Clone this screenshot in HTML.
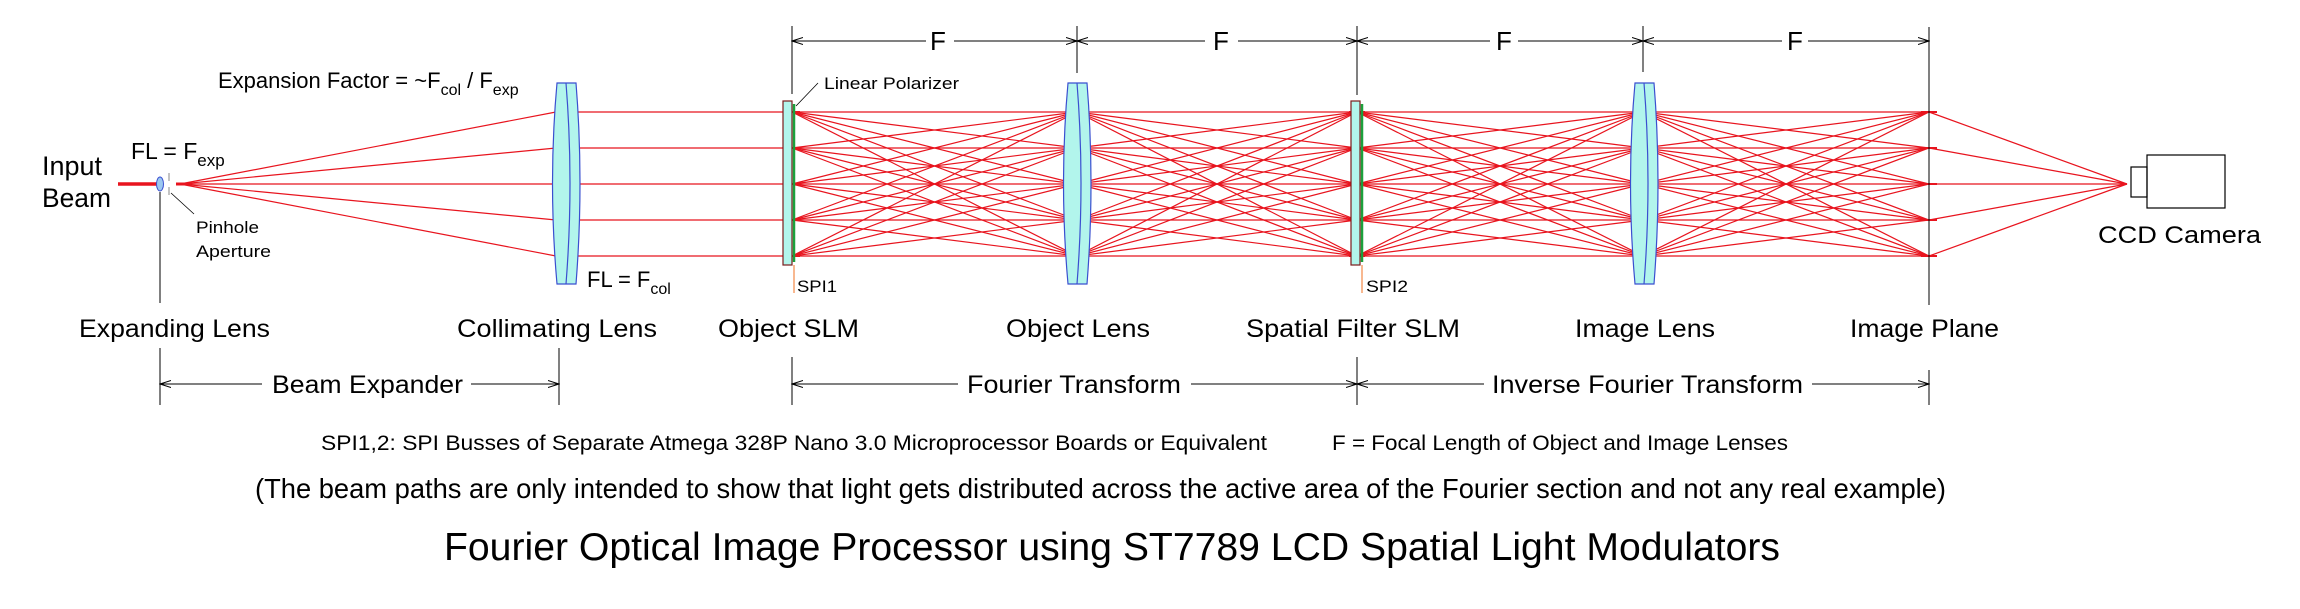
<!DOCTYPE html>
<html><head><meta charset="utf-8"><style>
html,body{margin:0;padding:0;background:#fff;}
svg{display:block;}
text{font-family:"Liberation Sans",Arial,sans-serif;fill:#000;}
</style></head><body>
<svg id="s" width="2300" height="609" viewBox="0 0 2300 609" xmlns="http://www.w3.org/2000/svg">
<defs>
<marker id="ar" markerWidth="12" markerHeight="8" refX="11" refY="4" orient="auto" markerUnits="userSpaceOnUse">
<path d="M0,0.5 L11,4 L0,7.5" fill="none" stroke="#000" stroke-width="1"/></marker>
<marker id="al" markerWidth="12" markerHeight="8" refX="1" refY="4" orient="auto" markerUnits="userSpaceOnUse">
<path d="M12,0.5 L1,4 L12,7.5" fill="none" stroke="#000" stroke-width="1"/></marker>
</defs>
<g id="rays" stroke="#e8141e" stroke-width="1.2" fill="none"></g>

<line x1="118" y1="184" x2="157" y2="184" stroke="#e8141e" stroke-width="3.5"/>
<ellipse cx="160" cy="184" rx="3.5" ry="7" fill="#9cc8f0" stroke="#3a4fd0" stroke-width="1"/>
<line x1="169" y1="173" x2="169" y2="181" stroke="#888" stroke-width="1"/>
<line x1="169" y1="187" x2="169" y2="195" stroke="#888" stroke-width="1"/>
<line x1="171" y1="193" x2="194" y2="214" stroke="#000" stroke-width="0.8"/>
<line x1="160" y1="192" x2="160" y2="303" stroke="#000" stroke-width="1"/>

<g fill="#b2f5ec" stroke="#3a4fd0" stroke-width="1.2">
<path d="M557,83 L576,83 Q584,183 576,284 L557,284 Q548,183 557,83 Z"/>
<path d="M566,83 Q574,183 566,284" fill="none"/>
<path d="M1068,83 L1087,83 Q1095,183 1087,284 L1068,284 Q1059,183 1068,83 Z"/>
<path d="M1077,83 Q1085,183 1077,284" fill="none"/>
<path d="M1635,83 L1654,83 Q1662,183 1654,284 L1635,284 Q1626,183 1635,83 Z"/>
<path d="M1644,83 Q1652,183 1644,284" fill="none"/>
</g>

<rect x="783" y="101" width="9" height="164" fill="#b2f5ec" stroke="#7b1c1c" stroke-width="1.2"/>
<line x1="794" y1="104" x2="794" y2="262" stroke="#1ca03c" stroke-width="2.5"/>
<line x1="794" y1="265" x2="794" y2="293" stroke="#f07020" stroke-width="1"/>
<rect x="1351" y="101" width="9" height="164" fill="#b2f5ec" stroke="#7b1c1c" stroke-width="1.2"/>
<line x1="1362" y1="104" x2="1362" y2="262" stroke="#1ca03c" stroke-width="2.5"/>
<line x1="1362" y1="265" x2="1362" y2="293" stroke="#f07020" stroke-width="1"/>
<line x1="796" y1="106" x2="818" y2="83" stroke="#000" stroke-width="0.8"/>

<rect x="2131" y="167" width="16" height="30" fill="none" stroke="#000" stroke-width="1.2"/>
<rect x="2147" y="155" width="78" height="53" fill="none" stroke="#000" stroke-width="1.2"/>

<g stroke="#000" stroke-width="1">
<line x1="792" y1="26" x2="792" y2="94"/>
<line x1="1077" y1="26" x2="1077" y2="73"/>
<line x1="1357" y1="26" x2="1357" y2="95"/>
<line x1="1643" y1="26" x2="1643" y2="72"/>
<line x1="1929" y1="27" x2="1929" y2="305"/>
<line x1="792" y1="41" x2="926" y2="41" marker-start="url(#al)"/>
<line x1="954" y1="41" x2="1077" y2="41" marker-end="url(#ar)"/>
<line x1="1077" y1="41" x2="1205" y2="41" marker-start="url(#al)"/>
<line x1="1238" y1="41" x2="1357" y2="41" marker-end="url(#ar)"/>
<line x1="1357" y1="41" x2="1490" y2="41" marker-start="url(#al)"/>
<line x1="1518" y1="41" x2="1643" y2="41" marker-end="url(#ar)"/>
<line x1="1643" y1="41" x2="1782" y2="41" marker-start="url(#al)"/>
<line x1="1808" y1="41" x2="1929" y2="41" marker-end="url(#ar)"/>
<line x1="160" y1="348" x2="160" y2="405"/>
<line x1="559" y1="348" x2="559" y2="405"/>
<line x1="792" y1="357" x2="792" y2="405"/>
<line x1="1357" y1="357" x2="1357" y2="405"/>
<line x1="1929" y1="370" x2="1929" y2="405"/>
<line x1="160" y1="384" x2="262" y2="384" marker-start="url(#al)"/>
<line x1="471" y1="384" x2="559" y2="384" marker-end="url(#ar)"/>
<line x1="792" y1="384" x2="958" y2="384" marker-start="url(#al)"/>
<line x1="1191" y1="384" x2="1357" y2="384" marker-end="url(#ar)"/>
<line x1="1357" y1="384" x2="1484" y2="384" marker-start="url(#al)"/>
<line x1="1812" y1="384" x2="1929" y2="384" marker-end="url(#ar)"/>
</g>

<g font-size="26">
<text x="930" y="50">F</text>
<text x="1213" y="50">F</text>
<text x="1496" y="50">F</text>
<text x="1787" y="50">F</text>
</g>
<text x="42" y="175" font-size="27" textLength="60" lengthAdjust="spacingAndGlyphs">Input</text>
<text x="42" y="207" font-size="27" textLength="69" lengthAdjust="spacingAndGlyphs">Beam</text>
<text x="131" y="159" font-size="23">FL = F<tspan font-size="17" dy="7">exp</tspan></text>
<text x="218" y="88" font-size="22">Expansion Factor = ~F<tspan font-size="16" dy="7">col</tspan><tspan dy="-7"> / F</tspan><tspan font-size="16" dy="7">exp</tspan></text>
<text x="196" y="233" font-size="17" textLength="63" lengthAdjust="spacingAndGlyphs">Pinhole</text>
<text x="196" y="257" font-size="17" textLength="75" lengthAdjust="spacingAndGlyphs">Aperture</text>
<text x="587" y="287" font-size="22">FL = F<tspan font-size="16" dy="7">col</tspan></text>
<text x="824" y="89" font-size="17" textLength="135" lengthAdjust="spacingAndGlyphs">Linear Polarizer</text>
<text x="797" y="292" font-size="17" textLength="40" lengthAdjust="spacingAndGlyphs">SPI1</text>
<text x="1366" y="292" font-size="17" textLength="42" lengthAdjust="spacingAndGlyphs">SPI2</text>
<text x="2098" y="243" font-size="24" textLength="163" lengthAdjust="spacingAndGlyphs">CCD Camera</text>

<g font-size="25">
<text x="79" y="337" textLength="191" lengthAdjust="spacingAndGlyphs">Expanding Lens</text>
<text x="457" y="337" textLength="200" lengthAdjust="spacingAndGlyphs">Collimating Lens</text>
<text x="718" y="337" textLength="141" lengthAdjust="spacingAndGlyphs">Object SLM</text>
<text x="1006" y="337" textLength="144" lengthAdjust="spacingAndGlyphs">Object Lens</text>
<text x="1246" y="337" textLength="214" lengthAdjust="spacingAndGlyphs">Spatial Filter SLM</text>
<text x="1575" y="337" textLength="140" lengthAdjust="spacingAndGlyphs">Image Lens</text>
<text x="1850" y="337" textLength="149" lengthAdjust="spacingAndGlyphs">Image Plane</text>
<text x="272" y="393" textLength="191" lengthAdjust="spacingAndGlyphs">Beam Expander</text>
<text x="967" y="393" textLength="214" lengthAdjust="spacingAndGlyphs">Fourier Transform</text>
<text x="1492" y="393" textLength="311" lengthAdjust="spacingAndGlyphs">Inverse Fourier Transform</text>
</g>
<text x="321" y="450" font-size="21" textLength="946" lengthAdjust="spacingAndGlyphs">SPI1,2: SPI Busses of Separate Atmega 328P Nano 3.0 Microprocessor Boards or Equivalent</text>
<text x="1332" y="450" font-size="21" textLength="456" lengthAdjust="spacingAndGlyphs">F = Focal Length of Object and Image Lenses</text>
<text x="255" y="498" font-size="28" textLength="1691" lengthAdjust="spacingAndGlyphs">(The beam paths are only intended to show that light gets distributed across the active area of the Fourier section and not any real example)</text>
<text x="444" y="560" font-size="39" textLength="1336" lengthAdjust="spacingAndGlyphs">Fourier Optical Image Processor using ST7789 LCD Spatial Light Modulators</text>
</svg>
<script>
(function(){
var g=document.getElementById('rays'),ns='http://www.w3.org/2000/svg';
function L(a,b,c,d,w){var l=document.createElementNS(ns,'line');l.setAttribute('x1',a);l.setAttribute('y1',b);l.setAttribute('x2',c);l.setAttribute('y2',d);if(w)l.setAttribute('stroke-width',w);g.appendChild(l);}
var Y=[112,148,184,220,256],X=[792,1077,1357,1643,1929];
for(var i=0;i<5;i++){L(180,184,556,Y[i]);L(556,Y[i],792,Y[i]);}
L(176,184,188,184,3);
for(var s=0;s<4;s++)for(var i=0;i<5;i++)for(var j=0;j<5;j++)L(X[s],Y[i],X[s+1],Y[j]);
for(var i=0;i<5;i++)L(1929,Y[i],2127,184);
for(var s=0;s<5;s++)for(var i=0;i<5;i++){L(X[s]-8,Y[i],X[s]+8,Y[i],2);}
})();
</script>
</body></html>
